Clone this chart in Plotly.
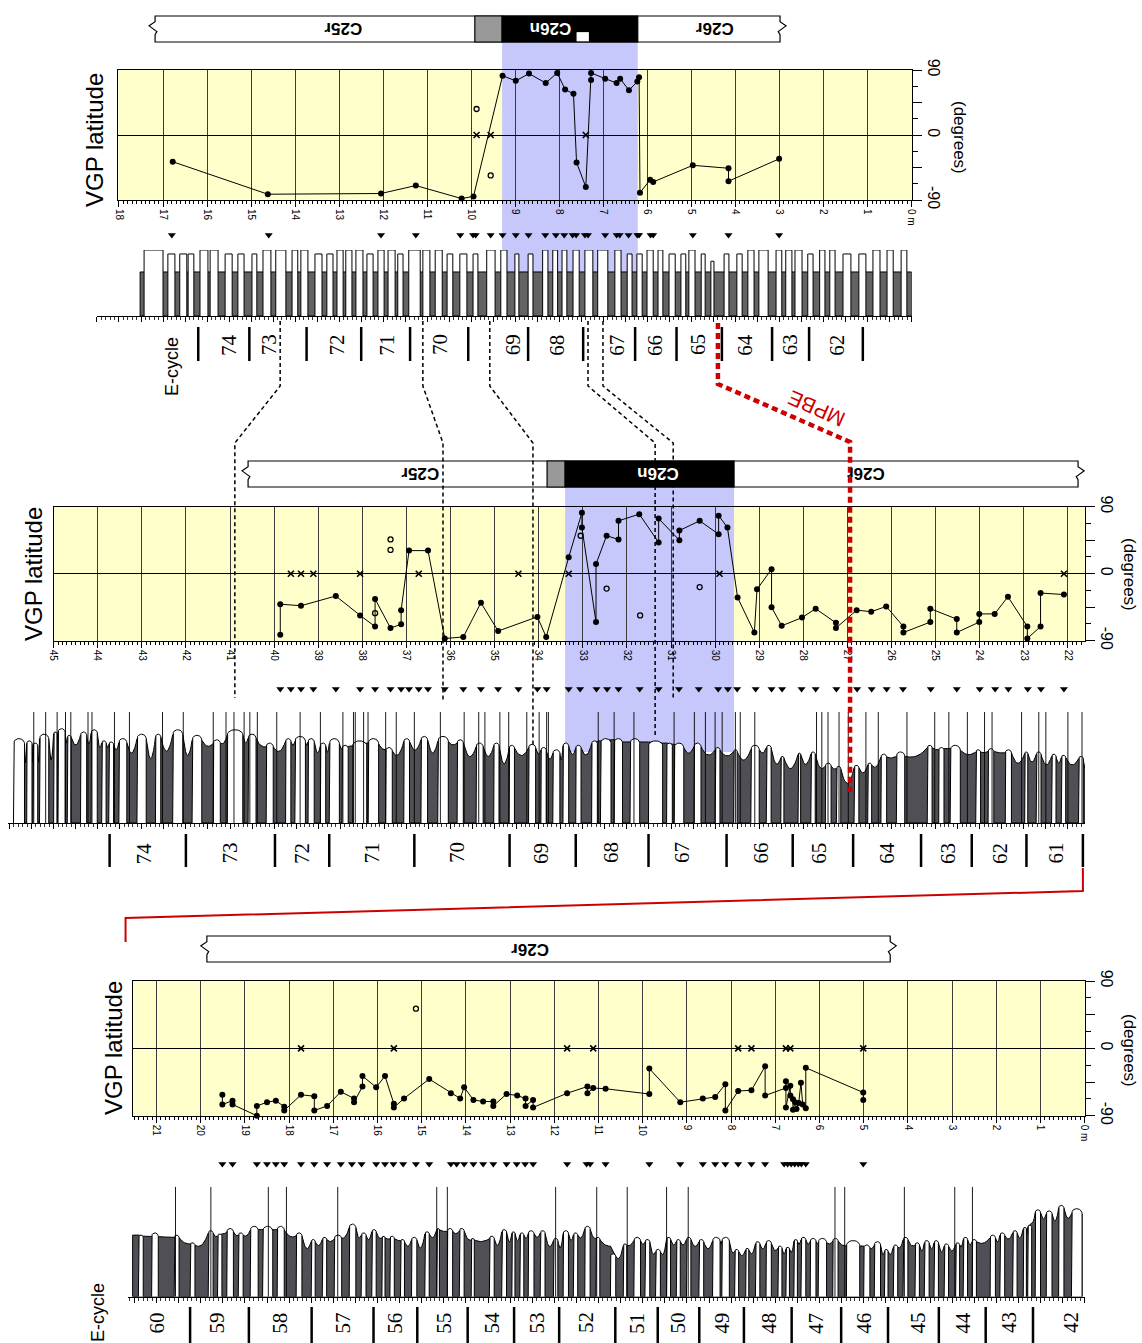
import numpy as np
import plotly.graph_objects as go

W, H = 1142, 1343

# ======================= DATA =======================
# ---------- Section A (top) : depth (m), VGP latitude (deg) ----------
A_vgp_depth = [16.78, 14.62, 12.05, 11.26, 10.22, 9.95, 9.29, 8.99, 8.69, 8.31, 8.05, 7.87, 7.68, 7.61, 7.40,
               7.28, 7.28, 6.96, 6.70, 6.62, 6.42, 6.23, 6.19, 6.17, 5.94, 5.87, 4.97, 4.16, 4.16, 3.01]
A_vgp_lat = [-37, -82, -81, -70, -88, -85, 82, 75, 85, 72, 86, 63, 57, -38, -72,
             76, 86, 78, 72, 78, 62, 74, 80, -80, -62, -65, -42, -46, -64, -33]
A_open_depth = [9.88, 9.56]
A_open_lat = [36, -56]
A_cross_depth = [9.88, 9.56, 7.40]
A_sample_depth = [16.80, 14.60, 12.05, 11.26, 10.25, 9.96, 9.90, 9.56, 9.29, 8.99, 8.70, 8.32, 8.08, 7.89, 7.70,
                  7.62, 7.42, 7.35, 6.96, 6.70, 6.63, 6.43, 6.23, 6.19, 5.93, 5.87, 4.97, 4.16, 3.01]
A_bed_top = [17.43, 16.89, 16.62, 16.43, 16.16, 15.93, 15.59, 15.30, 14.98, 14.73, 14.44, 14.07, 13.87, 13.55, 13.28,
             13.05, 12.85, 12.62, 12.37, 12.12, 11.89, 11.67, 11.42, 11.10, 10.82, 10.55, 10.26, 9.96, 9.65, 9.33,
             9.01, 8.71, 8.38, 8.15, 7.94, 7.69, 7.42, 7.13, 6.74, 6.46, 6.24, 6.01, 5.76, 5.51, 5.24, 5.06, 4.78,
             4.56, 4.26, 3.97, 3.72, 3.47, 3.08, 2.86, 2.65, 2.36, 2.09, 1.86, 1.56, 1.20, 0.88, 0.56, 0.24]
A_bed_base = [17.00, 16.73, 16.46, 16.30, 15.98, 15.75, 15.43, 15.16, 14.87, 14.55, 14.21, 13.94, 13.71, 13.39, 13.14,
              12.91, 12.71, 12.46, 12.23, 11.98, 11.73, 11.55, 11.16, 10.94, 10.66, 10.42, 10.10, 9.85, 9.46, 9.19,
              8.92, 8.60, 8.26, 8.04, 7.83, 7.55, 7.24, 6.90, 6.60, 6.35, 6.12, 5.87, 5.65, 5.37, 5.13, 4.92, 4.69,
              4.49, 4.15, 3.85, 3.58, 3.26, 2.95, 2.72, 2.49, 2.24, 1.97, 1.74, 1.38, 1.04, 0.72, 0.42, 0.11]
A_bed_h = [1, .94, .94, .94, 1, 1, .94, .94, .94, 1, 1, 1, 1, .94, .94, 1, 1, 1, .94, 1, 1, .94, 1, 1, 1, .94, .94,
           .94, 1, 1, .94, .94, 1, 1, 1, 1, 1, 1, 1, .94, .94, 1, 1, .94, .94, 1, .94, .83, .94, .94, 1, 1, 1, 1, 1,
           .94, 1, 1, .94, .94, 1, 1, 1]
A_marl_top, A_marl_base, A_marl_h = 17.52, 0.0, 0.667
A_ec_bounds = [16.20, 15.04, 13.74, 12.50, 11.39, 10.07, 8.71, 7.46, 6.28, 5.34, 4.31, 3.17, 2.33, 1.11]
A_ec_pos = [15.50, 14.59, 13.06, 11.92, 10.71, 9.05, 8.06, 6.70, 5.83, 4.85, 3.79, 2.76, 1.70]
A_ec_lab = ['74', '73', '72', '71', '70', '69', '68', '67', '66', '65', '64', '63', '62']
A_chron_name = ['C25r', '', 'C26n', 'C26r']
A_chron_top = [17.18, 9.92, 9.30, 6.22]
A_chron_base = [9.92, 9.30, 6.22, 2.99]
A_chron_pol = ['r', 'u', 'n', 'r']
A_chron_lab_pos = [12.91, None, 8.21, 4.47]
A_subchron = (7.61, 7.33)
A_ticks = list(range(0, 19))

# ---------- Section B (middle) ----------
B_vgp_depth = [39.86, 39.86, 39.39, 38.60, 38.05, 37.71, 37.71, 37.36, 37.12, 37.12, 36.94, 36.51, 36.13, 35.71,
               35.31, 34.92, 34.03, 33.83, 33.32, 33.02, 33.02, 32.70, 32.70, 32.46, 32.19, 32.19, 31.72, 31.28,
               31.28, 30.81, 30.81, 30.35, 29.92, 29.92, 29.72, 29.49, 29.11, 29.05, 28.72, 28.72, 28.49, 28.03,
               27.72, 27.26, 27.26, 26.79, 26.46, 26.12, 25.73, 25.73, 25.12, 25.12, 24.52, 24.52, 24.01, 24.01,
               23.66, 23.36, 22.92, 22.92, 22.62, 22.62, 22.09]
B_vgp_lat = [-82, -41, -43, -30, -56, -71, -34, -73, -68, -49, 31, 31, -87, -85, -39, -77, -58, -85, 22, 82, 62,
             -65, 13, 51, 46, 71, 80, 42, 74, 45, 58, 71, 53, 78, 62, -32, -79, -21, 6, -45, -70, -59, -47, -66,
             -73, -49, -51, -44, -71, -79, -65, -47, -61, -79, -65, -54, -54, -31, -71, -87, -71, -26, -28]
B_open_depth = [37.36, 37.36, 37.71, 33.05, 32.46, 31.70, 30.35]
B_open_lat = [46, 32, -53, 51, -20, -56, -18]
B_cross_depth = [39.62, 39.39, 39.11, 38.05, 36.72, 34.46, 33.32, 29.90, 22.09]
B_sample_depth = [39.86, 39.62, 39.39, 39.11, 38.60, 38.05, 37.71, 37.36, 37.12, 36.94, 36.72, 36.51, 36.13, 35.71,
                  35.31, 34.92, 34.46, 34.03, 33.82, 33.32, 33.06, 32.69, 32.45, 32.19, 31.71, 31.28, 30.82, 30.37,
                  29.93, 29.71, 29.50, 29.08, 28.72, 28.48, 28.04, 27.72, 27.25, 26.78, 26.45, 26.11, 25.74, 25.11,
                  24.52, 24.00, 23.65, 23.35, 22.91, 22.61, 22.09]
B_bed_top = [45.91, 45.61, 45.47, 45.32, 45.00, 44.90, 44.69, 44.39, 44.15, 43.91, 43.75, 43.52, 43.11, 42.69, 42.30,
             41.86, 41.38, 41.06, 40.59, 40.18, 39.74, 39.53, 39.23, 38.95, 38.75, 38.46, 38.22, 37.87, 37.47, 37.06,
             36.67, 36.29, 35.85, 35.42, 35.02, 34.67, 34.23, 33.95, 33.68, 33.45, 33.16, 32.80, 32.60, 32.29, 31.93,
             31.51, 31.10, 30.93, 30.48, 30.00, 29.58, 29.19, 28.84, 28.51, 28.12, 27.83, 27.50, 27.25, 26.85, 26.54,
             26.24, 25.89, 25.19, 24.93, 24.67, 24.09, 23.81, 23.42, 22.98, 22.72, 22.37, 22.15, 21.76]
B_bed_base = [45.66, 45.49, 45.36, 45.11, 44.92, 44.74, 44.60, 44.25, 44.01, 43.81, 43.64, 43.34, 42.90, 42.57, 42.07,
              41.64, 41.22, 40.71, 40.41, 40.02, 39.62, 39.29, 39.09, 38.83, 38.52, 38.32, 37.90, 37.63, 37.32, 36.93,
              36.52, 36.05, 35.71, 35.26, 34.90, 34.55, 34.07, 33.83, 33.52, 33.32, 33.04, 32.67, 32.36, 32.10, 31.71,
              31.19, 30.97, 30.71, 30.32, 29.89, 29.50, 29.00, 28.73, 28.44, 28.06, 27.73, 27.37, 27.15, 26.74, 26.45,
              26.11, 25.70, 25.08, 24.81, 24.44, 23.98, 23.68, 23.28, 22.91, 22.61, 22.27, 22.05, 21.65]
B_bed_h = [0.76, 0.74, 0.72, 0.80, 0.82, 0.85, 0.79, 0.82, 0.84, 0.74, 0.73, 0.76, 0.80, 0.80, 0.84, 0.79, 0.75, 0.84,
           0.80, 0.72, 0.76, 0.78, 0.76, 0.72, 0.76, 0.70, 0.74, 0.76, 0.68, 0.76, 0.78, 0.78, 0.75, 0.72, 0.72, 0.70,
           0.71, 0.68, 0.66, 0.72, 0.70, 0.74, 0.76, 0.76, 0.76, 0.74, 0.72, 0.72, 0.72, 0.68, 0.66, 0.70, 0.70, 0.60,
           0.63, 0.64, 0.54, 0.51, 0.52, 0.54, 0.62, 0.64, 0.70, 0.68, 0.70, 0.66, 0.67, 0.66, 0.64, 0.64, 0.62, 0.61,
           0.60]
B_marl_h = [0.45, 0.46, 0.45, 0.45, 0.69, 0.68, 0.66, 0.66, 0.64, 0.66, 0.63, 0.57, 0.48, 0.57, 0.52, 0.67, 0.70,
            0.69, 0.68, 0.61, 0.68, 0.68, 0.59, 0.60, 0.66, 0.69, 0.72, 0.66, 0.57, 0.61, 0.57, 0.69, 0.54, 0.55,
            0.45, 0.57, 0.60, 0.54, 0.52, 0.58, 0.57, 0.74, 0.75, 0.73, 0.73, 0.72, 0.71, 0.60, 0.58, 0.58, 0.52,
            0.61, 0.48, 0.43, 0.48, 0.46, 0.48, 0.28, 0.42, 0.48, 0.58, 0.58, 0.66, 0.67, 0.60, 0.63, 0.63, 0.49,
            0.51, 0.48, 0.51, 0.49, 0.49]
B_col_top, B_col_base = 45.91, 21.61
B_thin = [45.45, 45.18, 44.92, 44.73, 44.61, 44.22, 44.13, 43.62, 43.28, 42.53, 42.06, 41.38, 41.09, 40.91, 40.68,
          40.55, 40.38, 39.94, 39.41, 38.95, 38.44, 38.20, 38.16, 37.97, 37.87, 37.47, 37.23, 36.82, 36.23, 35.69,
          35.36, 35.22, 34.88, 34.68, 34.27, 33.99, 33.82, 33.78, 32.65, 32.29, 31.84, 30.93, 30.47, 30.22, 30.00,
          29.84, 29.54, 29.43, 29.10, 27.70, 27.58, 27.44, 27.19, 26.98, 26.58, 26.30, 25.65, 25.02, 24.70, 24.28,
          23.89, 23.72, 23.05, 22.66, 22.50, 22.00, 21.68]
B_ec_bounds = [43.73, 42.00, 39.98, 38.75, 36.82, 34.66, 33.16, 31.51, 29.74, 28.24, 26.87, 25.33, 24.18, 22.94, 21.66]
B_ec_pos = [42.94, 40.99, 39.37, 37.79, 35.85, 33.95, 32.36, 30.75, 28.95, 27.65, 26.11, 24.72, 23.54, 22.26]
B_ec_lab = ['74', '73', '72', '71', '70', '69', '68', '67', '66', '65', '64', '63', '62', '61']
B_chron_name = ['C25r', '', 'C26n', 'C26r']
B_chron_top = [40.59, 33.81, 33.40, 29.57]
B_chron_base = [33.81, 33.40, 29.57, 21.77]
B_chron_pol = ['r', 'u', 'n', 'r']
B_chron_lab_pos = [36.69, None, 31.31, 26.58]
B_ticks = list(range(22, 46))

# ---------- Section C (bottom) ----------
C_vgp_depth = [19.51, 19.51, 19.28, 19.28, 18.73, 18.73, 18.50, 18.30, 18.11, 18.11, 17.73, 17.43, 17.43, 17.14,
               16.83, 16.53, 16.53, 16.34, 16.34, 16.03, 15.83, 15.63, 15.63, 15.40, 14.83, 14.34, 14.13, 14.04,
               13.83, 13.61, 13.38, 13.38, 13.08, 12.84, 12.65, 12.65, 12.48, 12.48, 11.71, 11.25, 11.25, 11.12,
               10.84, 9.85, 9.85, 9.15, 8.64, 8.36, 8.13, 8.13, 7.84, 7.54, 7.23, 7.23, 6.76, 6.76, 6.76, 6.66,
               6.66, 6.60, 6.60, 6.55, 6.52, 6.47, 6.42, 6.38, 6.31, 6.31, 5.01, 5.01]
C_vgp_lat = [-62, -75, -70, -75, -90, -77, -72, -70, -78, -83, -62, -64, -83, -77, -58, -67, -72, -51, -37, -52,
             -37, -74, -79, -67, -41, -60, -67, -52, -69, -71, -71, -77, -61, -63, -67, -77, -69, -79, -60, -51,
             -60, -53, -54, -61, -27, -72, -67, -65, -48, -83, -57, -56, -24, -63, -53, -44, -79, -50, -63, -68,
             -82, -72, -81, -73, -46, -75, -80, -26, -59, -69]
C_open_depth = [15.13]
C_open_lat = [53]
C_cross_depth = [17.73, 15.63, 11.71, 11.12, 7.84, 7.54, 6.76, 6.66, 5.01]
C_sample_depth = [19.51, 19.28, 18.73, 18.50, 18.30, 18.11, 17.73, 17.43, 17.14, 16.83, 16.58, 16.36, 16.03, 15.83,
                  15.64, 15.42, 15.13, 14.83, 14.34, 14.21, 14.04, 13.83, 13.61, 13.38, 13.08, 12.85, 12.66, 12.48,
                  11.71, 11.27, 11.19, 10.84, 9.85, 9.15, 8.64, 8.36, 8.13, 7.84, 7.54, 7.23, 6.80, 6.72, 6.64, 6.56,
                  6.48, 6.41, 6.31, 5.01]
C_bed_top = [21.41, 21.11, 20.60, 20.24, 19.83, 19.62, 19.41, 19.15, 18.88, 18.60, 18.27, 17.84, 17.50, 17.25, 16.98,
             16.64, 16.37, 16.13, 15.90, 15.72, 15.48, 15.23, 14.93, 14.66, 14.42, 14.15, 13.88, 13.47, 13.19, 12.96,
             12.78, 12.59, 12.32, 12.02, 11.80, 11.57, 11.31, 11.06, 10.73, 10.44, 10.20, 9.95, 9.71, 9.46, 9.24,
             9.01, 8.73, 8.42, 8.21, 7.92, 7.67, 7.45, 7.21, 6.94, 6.76, 6.58, 6.42, 6.21, 6.03, 5.70, 5.39, 5.00,
             4.76, 4.53, 4.33, 4.11, 3.84, 3.63, 3.41, 3.18, 2.92, 2.75, 2.55, 2.14, 1.92, 1.63, 1.39, 1.29, 1.12,
             0.87, 0.59, 0.30]
C_bed_base = [21.30, 20.96, 20.49, 20.13, 19.72, 19.52, 19.26, 19.04, 18.70, 18.37, 18.11, 17.71, 17.41, 17.15, 16.81,
              16.49, 16.26, 16.03, 15.83, 15.62, 15.39, 15.11, 14.83, 14.60, 14.30, 14.04, 13.81, 13.36, 13.08, 12.89,
              12.69, 12.46, 12.21, 11.92, 11.68, 11.47, 11.19, 10.97, 10.61, 10.36, 10.05, 9.84, 9.60, 9.37, 9.15,
              8.91, 8.62, 8.25, 8.04, 7.83, 7.60, 7.35, 7.09, 6.85, 6.68, 6.50, 6.31, 6.08, 5.84, 5.58, 5.09, 4.86,
              4.62, 4.45, 4.23, 4.00, 3.74, 3.52, 3.31, 3.08, 2.83, 2.65, 2.45, 2.02, 1.81, 1.53, 1.32, 1.20, 1.00,
              0.74, 0.47, 0.06]
C_bed_h = [0.56, 0.58, 0.56, 0.49, 0.60, 0.57, 0.62, 0.58, 0.64, 0.64, 0.64, 0.58, 0.52, 0.54, 0.56, 0.66, 0.58, 0.61,
           0.55, 0.55, 0.52, 0.54, 0.59, 0.62, 0.62, 0.62, 0.53, 0.55, 0.61, 0.59, 0.58, 0.60, 0.60, 0.53, 0.60, 0.58,
           0.64, 0.54, 0.39, 0.48, 0.54, 0.52, 0.43, 0.54, 0.52, 0.54, 0.52, 0.54, 0.54, 0.43, 0.44, 0.50, 0.51, 0.46,
           0.45, 0.52, 0.54, 0.53, 0.53, 0.53, 0.51, 0.47, 0.50, 0.43, 0.47, 0.54, 0.49, 0.51, 0.51, 0.48, 0.49, 0.54,
           0.52, 0.56, 0.58, 0.60, 0.63, 0.65, 0.79, 0.78, 0.83, 0.80]
C_marl_h = [0.56, 0.55, 0.54, 0.48, 0.44, 0.54, 0.57, 0.55, 0.54, 0.61, 0.61, 0.53, 0.39, 0.44, 0.49, 0.53, 0.51,
            0.49, 0.52, 0.52, 0.51, 0.43, 0.39, 0.51, 0.59, 0.56, 0.51, 0.49, 0.42, 0.45, 0.47, 0.51, 0.52, 0.41,
            0.39, 0.48, 0.51, 0.53, 0.46, 0.32, 0.46, 0.46, 0.36, 0.35, 0.45, 0.45, 0.43, 0.40, 0.46, 0.38, 0.35,
            0.36, 0.41, 0.40, 0.36, 0.37, 0.46, 0.46, 0.47, 0.47, 0.46, 0.46, 0.43, 0.35, 0.36, 0.43, 0.45, 0.38,
            0.40, 0.37, 0.39, 0.43, 0.45, 0.47, 0.47, 0.50, 0.50, 0.53, 0.67, 0.68, 0.64, 0.68]
C_col_top, C_col_base = 21.54, 0.06
C_thin = [20.57, 19.77, 18.47, 18.06, 16.90, 14.66, 14.42, 11.97, 11.04, 10.35, 9.46, 8.97, 5.65, 5.43, 4.08,
          2.94, 2.54]
C_ec_bounds = [21.70, 20.24, 18.91, 17.49, 16.09, 15.10, 13.96, 12.91, 11.89, 10.62, 9.66, 8.72, 7.71, 6.63, 5.51,
               4.45, 3.30, 2.24, 1.17]
C_ec_pos = [21.00, 19.64, 18.21, 16.77, 15.61, 14.50, 13.42, 12.40, 11.28, 10.13, 9.21, 8.21, 7.15, 6.08, 5.00,
            3.78, 2.76, 1.71, 0.31]
C_ec_lab = ['60', '59', '58', '57', '56', '55', '54', '53', '52', '51', '50', '49', '48', '47', '46', '45', '44',
            '43', '42']
C_chron_name = ['C26r']
C_chron_top = [19.86]
C_chron_base = [4.40]
C_chron_pol = ['r']
C_chron_lab_pos = [12.55]
C_ticks = list(range(0, 22))

# correlation tie levels (section A depth -> section B depth)
TIE_A = [14.34, 11.10, 9.58, 7.35, 7.01]
TIE_B = [40.89, 36.17, 34.13, 31.36, 30.95]
MPBE_A, MPBE_B = 4.40, 26.94
LINK_B, LINK_C = 21.66, 21.70

# ======================= STYLE / GEOMETRY =======================
FONT = "Arial, Liberation Sans, sans-serif"
SERIF = "Times New Roman, Liberation Serif, serif"
YELLOW = "#FFFFCC"
BLUE = "#C6C7FA"
RED = "#CC0000"

PAN = {
    'A': dict(zero=911.7, s=44.04, vx='x', vy='y', lx='x2', ly='y2', tx='x3', ty='y3',
              vgp_lr=(118, 911.7), vgp_bt=(200, 70), lit_lr=(97, 911.7), lit_bt=(316, 250), ppu=66,
              tri_bt=(241, 229), chron_bt=(42, 16), ec_bt=(361, 327), ec_y=345, blue_bt=(272, 42)),
    'B': dict(zero=2038.1, s=44.1, vx='x4', vy='y4', lx='x5', ly='y5', tx='x6', ty='y6',
              vgp_lr=(53.6, 1085), vgp_bt=(640.7, 506.7), lit_lr=(8, 1085), lit_bt=(823, 712), ppu=111,
              tri_bt=(695, 683), chron_bt=(487, 461), ec_bt=(867, 834), ec_y=853, blue_bt=(752, 487)),
    'C': dict(zero=1084.7, s=44.2, vx='x7', vy='y7', lx='x8', ly='y8', tx='x9', ty='y9',
              vgp_lr=(133.3, 1084.7), vgp_bt=(1115.7, 981), lit_lr=(128, 1084.7), lit_bt=(1296.7, 1186.7), ppu=110,
              tri_bt=(1170, 1158), chron_bt=(962, 936), ec_bt=(1343, 1307), ec_y=1323, blue_bt=None),
}


def dat(p, xpx):
    return (PAN[p]['zero'] - xpx) / PAN[p]['s']


def xpap(p, d):
    return (PAN[p]['zero'] - d * PAN[p]['s']) / W


def ypap(ypx):
    return 1 - ypx / H


def axkey(a):
    return ('xaxis' if a[0] == 'x' else 'yaxis') + a[1:]


fig = go.Figure()
shapes, annos, layout_axes = [], [], {}


def text(x, y, t, xref='paper', yref='paper', angle=0, size=12, color='black', family=FONT):
    annos.append(dict(x=x, y=y, xref=xref, yref=yref, text=t, showarrow=False, textangle=angle,
                      xanchor='center', yanchor='middle', font=dict(family=family, size=size, color=color)))


def bed_polys(tops, bases, hs, s, ppu, capmax):
    xs, ys = [], []
    th = np.linspace(0, np.pi, 13)
    for d1, d2, h in zip(tops, bases, hs):
        c = min(abs(d1 - d2) * s / 2, capmax) / ppu if capmax > 0 else 0.0
        mid, half = (d1 + d2) / 2, (d1 - d2) / 2
        xs += [d1, d1] + list(mid + half * np.cos(th)) + [d2, d2, None]
        ys += [0, h - c] + list(h - c + c * np.sin(th)) + [h - c, 0, None]
    return xs, ys


def marl_poly(tops, bases, hs, troughs, start, end, s, ppu, capmax=5, pw=2.5):
    caps = [min(abs(a - b) * s / 2, capmax) / ppu for a, b in zip(tops, bases)]
    edge = [h - c for h, c in zip(hs, caps)]
    gaps = []
    if start > tops[0] + 1e-9:
        gaps.append((start, tops[0], None, edge[0]))
    for i in range(len(tops) - 1):
        gaps.append((bases[i], tops[i + 1], edge[i], edge[i + 1]))
    if end < bases[-1] - 1e-9:
        gaps.append((bases[-1], end, edge[-1], None))
    xs, ys = [start], [0.0]
    ss = np.linspace(0, 1, 11)
    for (a, b, eL, eR), t in zip(gaps, troughs):
        eL = t if eL is None else max(eL, t)
        eR = t if eR is None else max(eR, t)
        xs += list(a + (b - a) * ss)
        ys += list(t + (eL - t) * (1 - ss) ** pw + (eR - t) * ss ** pw)
    xs += [end, end, start]
    ys += [ys[-1], 0, 0]
    return xs, ys


def build_panel(p, ticks, dep, lat, odep, olat, cdep, samples, ec_b, ec_p, ec_l,
                ch_name, ch_top, ch_base, ch_pol, ch_lab):
    P = PAN[p]
    vx, vy, lx, ly, tx, ty = P['vx'], P['vy'], P['lx'], P['ly'], P['tx'], P['ty']
    rngv = [dat(p, P['vgp_lr'][0]), dat(p, P['vgp_lr'][1])]
    rngl = [dat(p, P['lit_lr'][0]), dat(p, P['lit_lr'][1])]
    domv = [P['vgp_lr'][0] / W, P['vgp_lr'][1] / W]
    layout_axes[axkey(vx)] = dict(
        domain=domv, range=rngv, anchor=vy,
        tickmode='array', tickvals=ticks, ticktext=[('0 m' if t == 0 else str(t)) for t in ticks],
        tickangle=90, ticks='outside', ticklen=6, tickcolor='black',
        tickfont=dict(family=FONT, size=10, color='black'),
        showgrid=True, gridcolor='#3c3c3c', gridwidth=1, zeroline=False,
        showline=True, linecolor='black', linewidth=1, mirror=True,
        minor=dict(tickmode='linear', tick0=0, dtick=0.1, ticks='outside', ticklen=3, tickcolor='black',
                   showgrid=False))
    layout_axes[axkey(vy)] = dict(
        domain=[ypap(P['vgp_bt'][0]), ypap(P['vgp_bt'][1])], range=[-90, 90], anchor=vx, side='right',
        tickmode='array', tickvals=[-90, -45, 0, 45, 90], ticktext=['-90', '', '0', '', '90'],
        tickangle=90, ticks='outside', ticklen=9, tickcolor='black',
        tickfont=dict(family=FONT, size=16, color='black'),
        minor=dict(tickmode='linear', tick0=0, dtick=22.5, ticks='outside', ticklen=5, tickcolor='black'),
        showgrid=False, zeroline=True, zerolinecolor='black', zerolinewidth=1,
        showline=True, linecolor='black', linewidth=1, mirror=True)
    layout_axes[axkey(lx)] = dict(
        domain=[P['lit_lr'][0] / W, P['lit_lr'][1] / W], range=rngl, anchor=ly, showticklabels=False,
        tickmode='linear', tick0=0, dtick=0.5, ticks='outside', ticklen=5, tickcolor='black',
        minor=dict(tickmode='linear', tick0=0, dtick=0.1, ticks='outside', ticklen=3, tickcolor='#333'),
        showgrid=False, zeroline=False, showline=True, linecolor='black', linewidth=1)
    layout_axes[axkey(ly)] = dict(domain=[ypap(P['lit_bt'][0]), ypap(P['lit_bt'][1])], range=[0, 1],
                                  anchor=lx, visible=False)
    layout_axes[axkey(tx)] = dict(domain=domv, range=rngv, anchor=ty, visible=False, showgrid=False)
    layout_axes[axkey(ty)] = dict(domain=[ypap(P['tri_bt'][0]), ypap(P['tri_bt'][1])], range=[-1, 1],
                                  anchor=tx, visible=False, showgrid=False)

    # yellow VGP background
    shapes.append(dict(type='rect', xref=vx + ' domain', yref=vy + ' domain', x0=0, x1=1, y0=0, y1=1,
                       fillcolor=YELLOW, line=dict(width=0), layer='below'))
    # blue normal-polarity band
    if P['blue_bt'] is not None:
        i = ch_pol.index('n')
        shapes.append(dict(type='rect', xref=vx, yref='paper', x0=ch_top[i], x1=ch_base[i],
                           y0=ypap(P['blue_bt'][0]), y1=ypap(P['blue_bt'][1]),
                           fillcolor=BLUE, line=dict(width=0), layer='below'))

    # VGP data
    fig.add_trace(go.Scatter(x=dep, y=lat, xaxis=vx, yaxis=vy, mode='lines+markers', cliponaxis=False,
                             line=dict(color='black', width=1),
                             marker=dict(color='black', size=6, line=dict(width=0))))
    fig.add_trace(go.Scatter(x=odep, y=olat, xaxis=vx, yaxis=vy, mode='markers', cliponaxis=False,
                             marker=dict(symbol='circle-open', color='black', size=5, line=dict(width=1.3))))
    fig.add_trace(go.Scatter(x=cdep, y=[0] * len(cdep), xaxis=vx, yaxis=vy, mode='markers', cliponaxis=False,
                             marker=dict(symbol='x-thin', color='black', size=6, line=dict(width=1.6, color='black'))))
    # sample triangles
    fig.add_trace(go.Scatter(x=samples, y=[0] * len(samples), xaxis=tx, yaxis=ty, mode='markers', cliponaxis=False,
                             marker=dict(symbol='triangle-down', color='black', size=7, line=dict(width=0))))

    # E-cycles
    eb, et = P['ec_bt']
    for d in ec_b:
        shapes.append(dict(type='line', xref=lx, yref='paper', x0=d, x1=d, y0=ypap(eb), y1=ypap(et),
                           line=dict(color='black', width=2.5)))
    for d, t in zip(ec_p, ec_l):
        text(d, ypap(P['ec_y']), t, xref=lx, angle=-90, size=21, family=SERIF)

    # chron bar
    cb, ct = P['chron_bt']
    yb, yt = ypap(cb), ypap(ct)
    hh = yt - yb
    left, right = ch_top[0], ch_base[-1]
    z = 6 / P['s']

    def Y(f):
        return yt - f * hh
    path = (f"M{left},{Y(0)} L{left},{Y(0.22)} L{left + z},{Y(0.38)} L{left - z * 0.3},{Y(0.6)} "
            f"L{left},{Y(0.72)} L{left},{Y(1)} L{right},{Y(1)} L{right},{Y(0.72)} "
            f"L{right + z * 0.3},{Y(0.6)} L{right - z},{Y(0.38)} L{right},{Y(0.22)} L{right},{Y(0)} Z")
    shapes.append(dict(type='path', xref=vx, yref='paper', path=path, fillcolor='white',
                       line=dict(color='black', width=1.2)))
    for nm, a, b, pol, lp in zip(ch_name, ch_top, ch_base, ch_pol, ch_lab):
        if pol != 'r':
            shapes.append(dict(type='rect', xref=vx, yref='paper', x0=a, x1=b, y0=yb, y1=yt,
                               fillcolor='black' if pol == 'n' else '#999999', line=dict(color='black', width=1.2)))
        if lp is not None and nm:
            text(lp, (yb + yt) / 2, '<b>' + nm + '</b>', xref=vx, angle=180, size=17,
                 color='white' if pol == 'n' else 'black')
    return yb, yt


ybA, ytA = build_panel('A', A_ticks, A_vgp_depth, A_vgp_lat, A_open_depth, A_open_lat, A_cross_depth,
                       A_sample_depth, A_ec_bounds, A_ec_pos, A_ec_lab,
                       A_chron_name, A_chron_top, A_chron_base, A_chron_pol, A_chron_lab_pos)
build_panel('B', B_ticks, B_vgp_depth, B_vgp_lat, B_open_depth, B_open_lat, B_cross_depth,
            B_sample_depth, B_ec_bounds, B_ec_pos, B_ec_lab,
            B_chron_name, B_chron_top, B_chron_base, B_chron_pol, B_chron_lab_pos)
build_panel('C', C_ticks, C_vgp_depth, C_vgp_lat, C_open_depth, C_open_lat, C_cross_depth,
            C_sample_depth, C_ec_bounds, C_ec_pos, C_ec_lab,
            C_chron_name, C_chron_top, C_chron_base, C_chron_pol, C_chron_lab_pos)

# sub-chron white square in section A
shapes.append(dict(type='rect', xref='x', yref='paper', x0=A_subchron[0], x1=A_subchron[1],
                   y0=ybA + 0.0005, y1=ybA + (ytA - ybA) * 0.38, fillcolor='white', line=dict(width=0)))

# ---------- lithology ----------
fig.add_trace(go.Scatter(x=[A_marl_top, A_marl_top, A_marl_base, A_marl_base, A_marl_top],
                         y=[0, A_marl_h, A_marl_h, 0, 0], xaxis='x2', yaxis='y2', mode='lines', fill='toself',
                         fillcolor='#636363', line=dict(color='black', width=1)))
bx, by = bed_polys(A_bed_top, A_bed_base, A_bed_h, PAN['A']['s'], PAN['A']['ppu'], 0)
fig.add_trace(go.Scatter(x=bx, y=by, xaxis='x2', yaxis='y2', mode='lines', fill='toself', fillcolor='white',
                         line=dict(color='black', width=1)))

for p, tops, bases, hs, tr, c0, c1, thin in [
        ('B', B_bed_top, B_bed_base, B_bed_h, B_marl_h, B_col_top, B_col_base, B_thin),
        ('C', C_bed_top, C_bed_base, C_bed_h, C_marl_h, C_col_top, C_col_base, C_thin)]:
    P = PAN[p]
    mx, my = marl_poly(tops, bases, hs, tr, c0, c1, P['s'], P['ppu'])
    fig.add_trace(go.Scatter(x=mx, y=my, xaxis=P['lx'], yaxis=P['ly'], mode='lines', fill='toself',
                             fillcolor='#4f4f55', line=dict(color='black', width=1)))
    bx, by = bed_polys(tops, bases, hs, P['s'], P['ppu'], 5)
    fig.add_trace(go.Scatter(x=bx, y=by, xaxis=P['lx'], yaxis=P['ly'], mode='lines', fill='toself',
                             fillcolor='white', line=dict(color='black', width=1)))
    tx_, ty_ = [], []
    for d in thin:
        tx_ += [d, d, None]
        ty_ += [0, 1, None]
    fig.add_trace(go.Scatter(x=tx_, y=ty_, xaxis=P['lx'], yaxis=P['ly'], mode='lines',
                             line=dict(color='black', width=0.9)))

# ---------- correlation lines ----------
TIE_END = [698, 700, 745, 735, 700]
for a, b, ye in zip(TIE_A, TIE_B, TIE_END):
    xa, xb = xpap('A', a), xpap('B', b)
    shapes.append(dict(type='path', xref='paper', yref='paper',
                       path=f"M{xa},{ypap(321)} L{xa},{ypap(386)} L{xb},{ypap(443)} L{xb},{ypap(ye)}",
                       line=dict(color='black', width=1.5, dash='4px,3px')))
xa, xb = xpap('A', MPBE_A), xpap('B', MPBE_B)
shapes.append(dict(type='path', xref='paper', yref='paper',
                   path=f"M{xa},{ypap(323)} L{xa},{ypap(384)} L{xb},{ypap(442)} L{xb},{ypap(792)}",
                   line=dict(color=RED, width=4.5, dash='6px,4px')))
text((xa + xb) / 2 + 32 / W, ypap(409), 'MPBE', angle=-156, size=21, color=RED)
xb2, xc2 = xpap('B', LINK_B), xpap('C', LINK_C)
shapes.append(dict(type='path', xref='paper', yref='paper',
                   path=f"M{xb2},{ypap(868)} L{xb2},{ypap(891)} L{xc2},{ypap(918)} L{xc2},{ypap(942)}",
                   line=dict(color=RED, width=2)))

# ---------- axis titles ----------
for x, y in [(95, 140), (33, 574), (113, 1048)]:
    text(x / W, ypap(y), 'VGP latitude', angle=-90, size=24)
for x, y in [(960, 137), (1130, 574), (1130, 1050)]:
    text(x / W, ypap(y), '(degrees)', angle=90, size=17)
for x, y in [(172, 366), (98, 1312)]:
    text(x / W, ypap(y), 'E-cycle', angle=-90, size=18)

fig.update_layout(width=W, height=H, autosize=False, margin=dict(l=0, r=0, t=0, b=0),
                  paper_bgcolor='white', plot_bgcolor='rgba(0,0,0,0)', showlegend=False, template='none',
                  font=dict(family=FONT, color='black'),
                  shapes=shapes, annotations=annos, **layout_axes)
fig.write_html("out.html", config={'displayModeBar': False},
               post_script="document.body.style.margin='0';document.body.style.padding='0';"
                           "document.documentElement.style.overflow='hidden';")
